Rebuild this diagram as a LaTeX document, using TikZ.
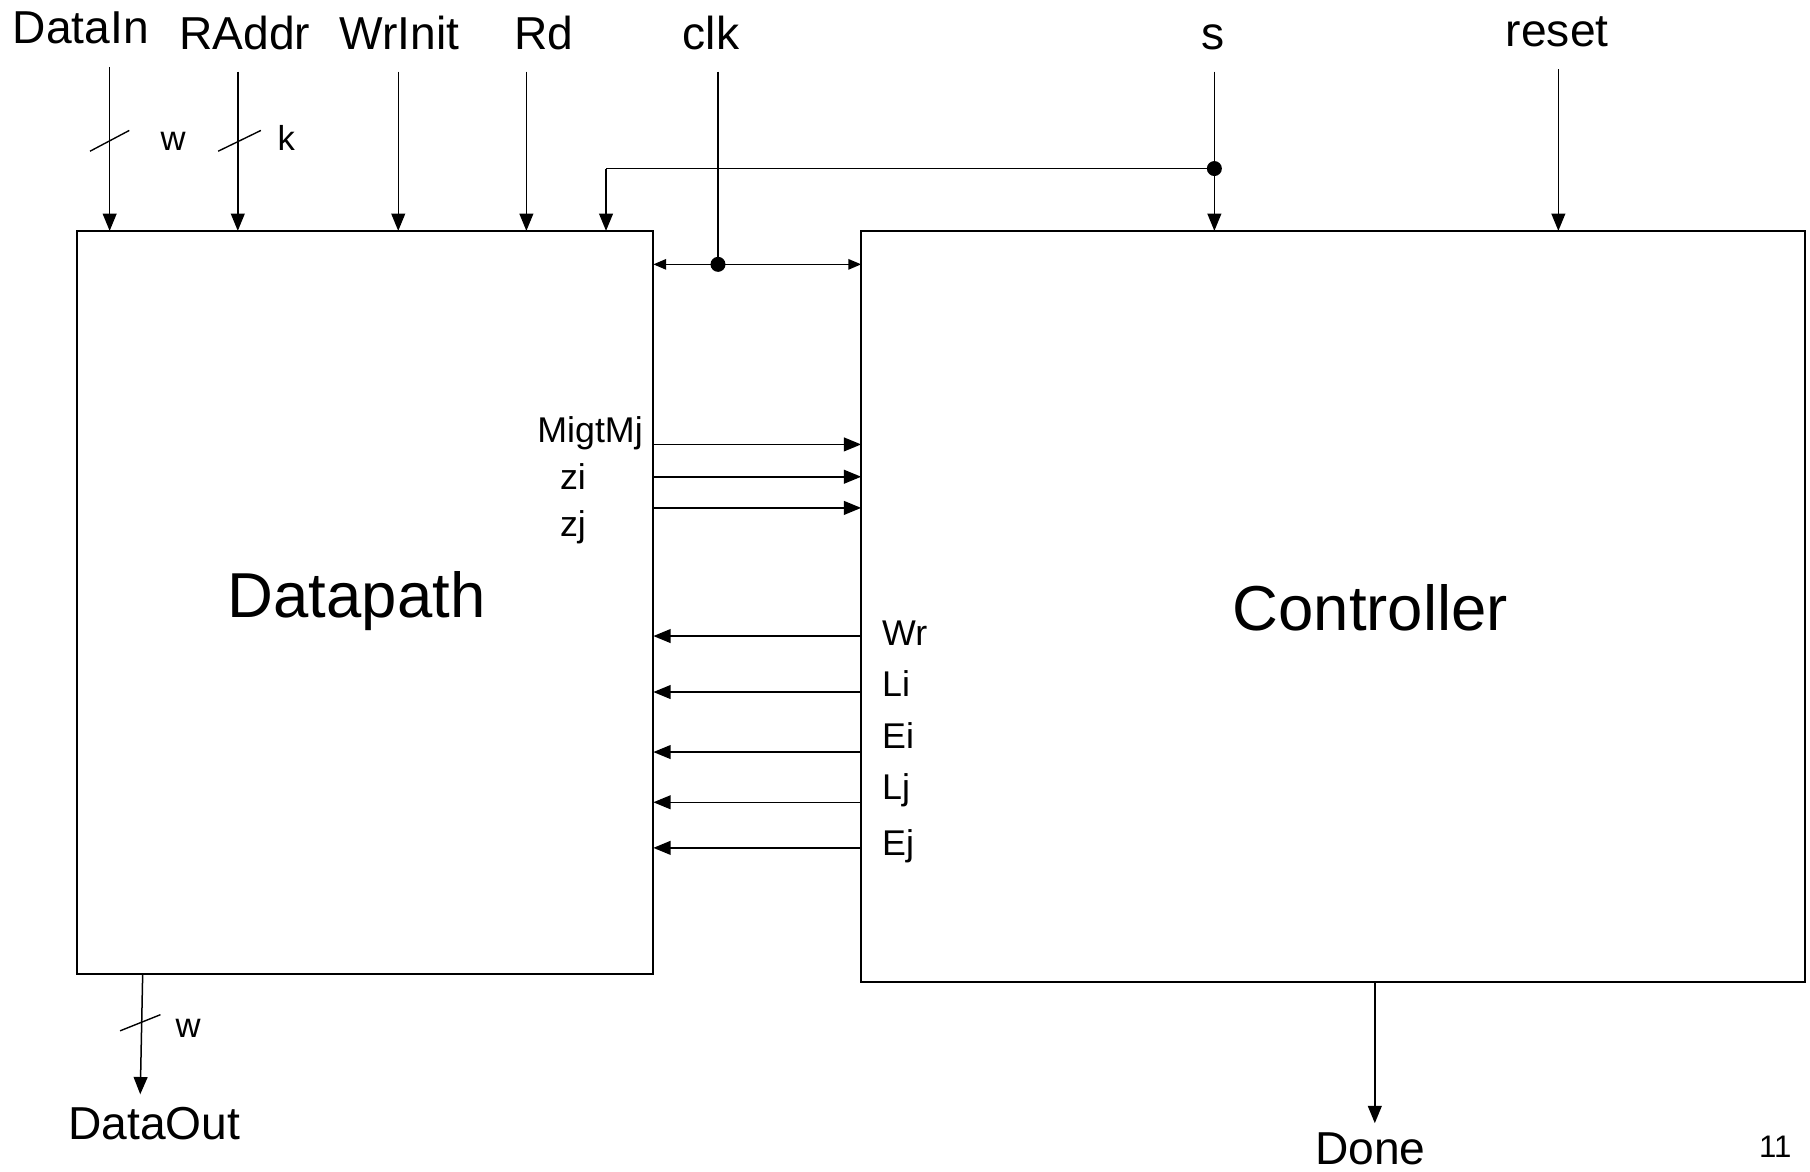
\documentclass[tikz,border=0pt]{standalone}
\usepackage{fontspec}
\setmainfont{Liberation Sans}
\usetikzlibrary{arrows.meta}
\begin{document}
\begin{tikzpicture}[x=1pt,y=-1pt,
  blk/.style={draw, line width=1.7pt, inner sep=0pt, outer sep=0pt, anchor=north west},
  sig/.style={line width=1.3pt, -{Triangle[length=15pt,width=12pt]}},
  wire/.style={line width=1.3pt},
  clkarr/.style={line width=1.3pt, {Triangle[length=11pt,width=9pt]}-{Triangle[length=11pt,width=9pt]}},
  slash/.style={line width=1.2pt},
  lbl/.style={inner sep=0pt, anchor=base, font=\fontsize{40}{42}\selectfont},
  sml/.style={inner sep=0pt, anchor=base, font=\fontsize{31}{33}\selectfont},
  bus/.style={inner sep=0pt, anchor=base, font=\fontsize{30}{32}\selectfont},
  big/.style={inner sep=0pt, anchor=base, font=\fontsize{55}{57}\selectfont},
  jdot/.style={circle, fill, inner sep=0pt, minimum size=13pt}]
\useasboundingbox (0,0) rectangle (1568,1015);

% blocks
\node[blk, minimum width=499pt, minimum height=644pt] (dp) at (67,200) {};
\node[blk, minimum width=818pt, minimum height=651pt] (ct) at (746,200) {};
\node[big] (dplbl) at (309,535) {Datapath};
\node[big] (ctlbl) at (1187,546) {Controller};

% top labels
\node[lbl] (tDataIn) at (70,38) {DataIn};
\node[lbl] (tRAddr) at (212,43) {RAddr};
\node[lbl] (tWrInit) at (346,43) {WrInit};
\node[lbl] (tRd) at (471,43) {Rd};
\node[lbl] (tclk) at (616,43) {clk};
\node[lbl] (ts) at (1051,43) {s};
\node[lbl] (treset) at (1349,40) {reset};

% input start points
\coordinate (iDataIn) at (95,58);
\coordinate (iRAddr) at (206,62);
\coordinate (iWrInit) at (345,62);
\coordinate (iRd) at (456,62);
\coordinate (iclk) at (622,62);
\coordinate (is) at (1052,62);
\coordinate (ireset) at (1350,60);

\draw[sig] (iDataIn) -- (iDataIn |- dp.north);
\draw[sig] (iRAddr) -- (iRAddr |- dp.north);
\draw[sig] (iWrInit) -- (iWrInit |- dp.north);
\draw[sig] (iRd) -- (iRd |- dp.north);
\draw[sig] (is) -- (is |- ct.north);
\draw[sig] (ireset) -- (ireset |- ct.north);

% bus slashes
\draw[slash] (78,131) -- (112,113);
\node[bus] (wIn) at (150,130) {w};
\draw[slash] (189,131) -- (226,113);
\node[bus] (kIn) at (248,130) {k};

% s branch
\node[jdot] (sdot) at (1052,146) {};
\coordinate (sbr) at (525,146);
\draw[wire] (sdot.center) -- (sbr);
\draw[sig] (sbr) -- (sbr |- dp.north);

% clk
\node[jdot] (clkdot) at (622,229) {};
\draw[wire] (iclk) -- (clkdot.center);
\draw[clkarr] (dp.east |- clkdot) -- (ct.west |- clkdot);

% status signals datapath -> controller
\node[sml, anchor=base east] (lMig) at (557,383) {MigtMj};
\node[sml, anchor=base west] (lzi) at (485,424) {zi};
\node[sml, anchor=base west] (lzj) at (485,465) {zj};
\coordinate (s1) at (566,385);
\coordinate (s2) at (566,413);
\coordinate (s3) at (566,440);
\draw[sig] (s1) -- (s1 -| ct.west);
\draw[sig] (s2) -- (s2 -| ct.west);
\draw[sig] (s3) -- (s3 -| ct.west);

% control signals controller -> datapath
\coordinate (c1) at (746,551);
\coordinate (c2) at (746,599.5);
\coordinate (c3) at (746,651.5);
\coordinate (c4) at (746,695);
\coordinate (c5) at (746,734.5);
\draw[sig] (c1) -- (c1 -| dp.east);
\draw[sig] (c2) -- (c2 -| dp.east);
\draw[sig] (c3) -- (c3 -| dp.east);
\draw[sig] (c4) -- (c4 -| dp.east);
\draw[sig] (c5) -- (c5 -| dp.east);
\node[sml, anchor=base west] (lWr) at (764,559) {Wr};
\node[sml, anchor=base west] (lLi) at (764,603) {Li};
\node[sml, anchor=base west] (lEi) at (764,648) {Ei};
\node[sml, anchor=base west] (lLj) at (764,693) {Lj};
\node[sml, anchor=base west] (lEj) at (764,741) {Ej};

% outputs
\coordinate (oDO) at (123.6,844);
\coordinate (eDO) at (121.5,948);
\draw[sig] (oDO) -- (eDO);
\draw[slash] (104,893) -- (139,879);
\node[bus] (wOut) at (163,899) {w};
\node[lbl, anchor=base west] (DataOut) at (59,987) {DataOut};

\coordinate (oDone) at (1191,851);
\coordinate (eDone) at (1191,973);
\draw[sig] (oDone) -- (eDone);
\node[lbl] (Done) at (1187,1009) {Done};

\node[inner sep=0pt, anchor=base, font=\fontsize{27}{29}\selectfont] (pg) at (1538,1003) {11};
\end{tikzpicture}
\end{document}
